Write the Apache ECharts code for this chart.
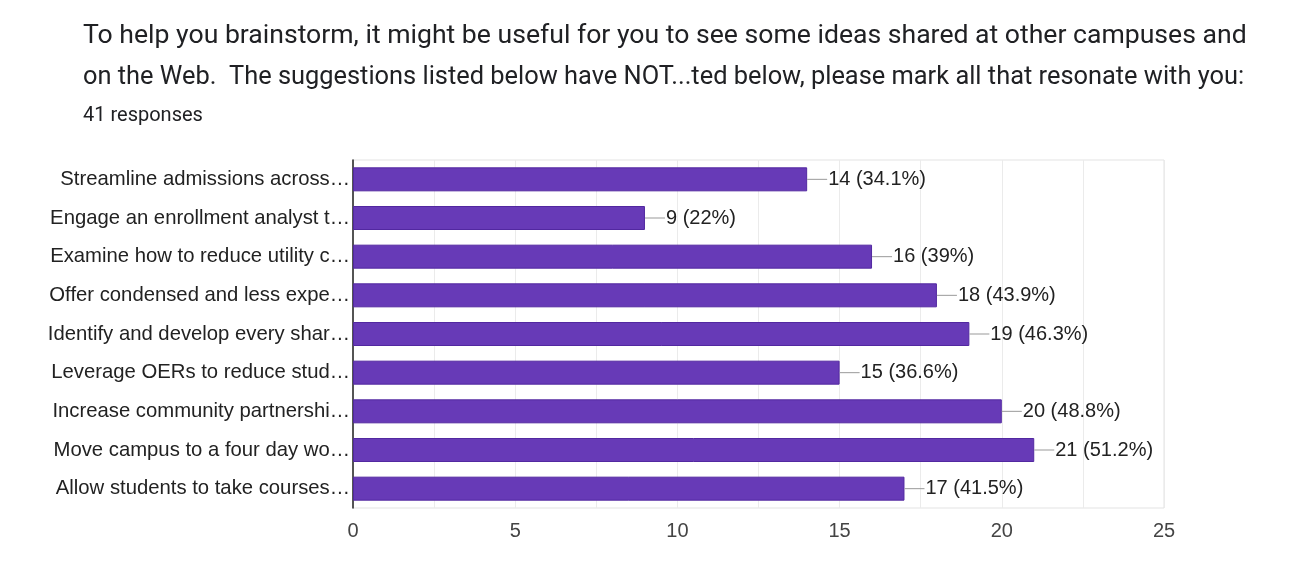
<!DOCTYPE html>
<html>
<head>
<meta charset="utf-8">
<script src="https://cdn.jsdelivr.net/npm/echarts@6/dist/echarts.min.js"></script>
<style>
  html, body { margin: 0; padding: 0; background: #fff; }
  #chart { width: 1295px; height: 578px; }
</style>
</head>
<body>
<div id="chart"></div>
<script>
// question text
const questionLines = [
  'To help you brainstorm, it might be useful for you to see some ideas shared at other campuses and',
  'on the Web.  The suggestions listed below have NOT...ted below, please mark all that resonate with you:'
]
const responseCount = '41 responses'

const categories = [
  'Streamline admissions across…',
  'Engage an enrollment analyst t…',
  'Examine how to reduce utility c…',
  'Offer condensed and less expe…',
  'Identify and develop every shar…',
  'Leverage OERs to reduce stud…',
  'Increase community partnershi…',
  'Move campus to a four day wo…',
  'Allow students to take courses…'
]
const counts = [14, 9, 16, 18, 19, 15, 20, 21, 17]
const percents = ['34.1%', '22%', '39%', '43.9%', '46.3%', '36.6%', '48.8%', '51.2%', '41.5%']

const chart = echarts.init(document.getElementById('chart'))

chart.setOption({
  animation: false,
  textStyle: { fontFamily: 'Liberation Sans, Arial, sans-serif' },
  title: {
    text: '{a|' + questionLines[0] + '}\n{b|' + questionLines[1] + '}',
    subtext: responseCount,
    left: 83,
    top: 16,
    padding: 0,
    itemGap: 7,
    textStyle: {
      fontFamily: 'Roboto',
      fontWeight: 'normal',
      color: '#202124',
      lineHeight: 41,
      rich: {
        a: { fontFamily: 'Roboto', fontSize: 26.6, color: '#202124', lineHeight: 41 },
        b: { fontFamily: 'Roboto', fontSize: 25.4, color: '#202124', lineHeight: 41 }
      }
    },
    subtextStyle: {
      fontFamily: 'Roboto',
      fontSize: 20,
      lineHeight: 22,
      color: '#202124'
    }
  },
  grid: {
    left: 353,
    right: 131,
    top: 160,
    bottom: 70,
    show: true,
    borderColor: '#e3e3e3',
    borderWidth: 1
  },
  xAxis: {
    type: 'value',
    min: 0,
    max: 25,
    interval: 2.5,
    axisLine: { show: false },
    axisTick: { show: false },
    splitLine: { lineStyle: { color: '#ebebeb', width: 1 } },
    axisLabel: {
      color: '#444',
      fontSize: 20,
      margin: 13,
      formatter: v => (v % 5 === 0 ? String(v) : '')
    }
  },
  yAxis: {
    type: 'category',
    inverse: true,
    data: categories,
    axisTick: { show: false },
    axisLine: { lineStyle: { color: '#222', width: 1.5 } },
    axisLabel: { color: '#222', fontSize: 20.3, margin: 3 }
  },
  series: [
    {
      type: 'bar',
      data: counts,
      barWidth: 24,
      itemStyle: {
        color: '#673ab7',
        borderColor: '#5228a0',
        borderWidth: 1
      },
      label: {
        show: true,
        position: 'right',
        distance: 0,
        formatter: p => '{l|}{t|' + p.value + ' (' + percents[p.dataIndex] + ')}',
        rich: {
          l: { width: 20, height: 1, backgroundColor: '#999' },
          t: { color: '#222', fontSize: 20, padding: [0, 0, 0, 1] }
        }
      }
    }
  ]
})
</script>
</body>
</html>
